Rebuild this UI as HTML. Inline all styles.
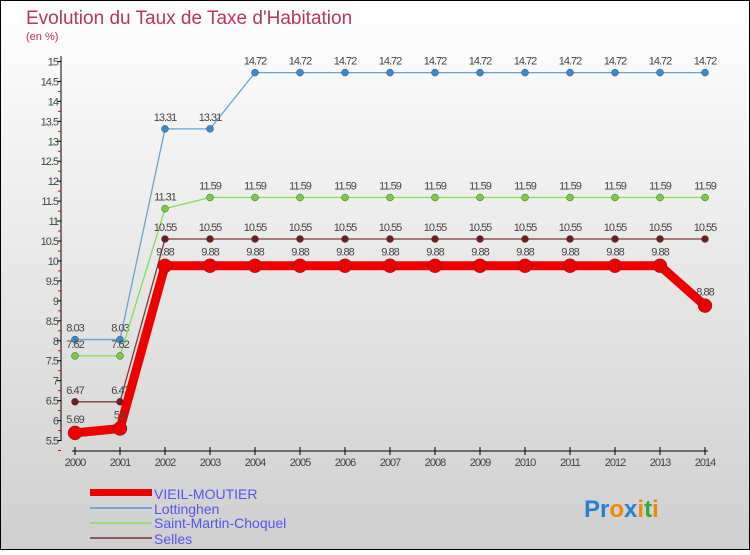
<!DOCTYPE html>
<html><head><meta charset="utf-8"><style>
body{margin:0;width:750px;height:550px;overflow:hidden;font-family:"Liberation Sans",sans-serif}
</style></head><body>
<svg width="750" height="550" xmlns="http://www.w3.org/2000/svg">
<defs><linearGradient id="bg" x1="0" y1="0" x2="0" y2="1"><stop offset="0" stop-color="#ffffff"/><stop offset="1" stop-color="#cfcfcf"/></linearGradient></defs>
<rect x="0.5" y="0.5" width="749" height="549" fill="url(#bg)" stroke="#000"/>
<text x="26" y="24" font-size="19" fill="#b5365f">Evolution du Taux de Taxe d'Habitation</text>
<text x="26" y="40" font-size="11" fill="#b5365f">(en %)</text>
<g id="axes"></g>
<g id="series"></g>
<g>
<rect x="90" y="489" width="62" height="7" fill="#e00"/>
<text x="154" y="499" font-size="14" fill="#5555ee">VIEIL-MOUTIER</text>
<rect x="90" y="507" width="62" height="2" fill="#7aa8cc"/>
<text x="154" y="514" font-size="14" fill="#5555ee">Lottinghen</text>
<rect x="90" y="522" width="62" height="2" fill="#99dd77"/>
<text x="154" y="528" font-size="14" fill="#5555ee">Saint-Martin-Choquel</text>
<rect x="90" y="537" width="62" height="2" fill="#8b5a5a"/>
<text x="154" y="544" font-size="14" fill="#5555ee">Selles</text>
</g>
<text x="584" y="517" font-size="24" font-weight="bold"><tspan fill="#2a7fd4">Pr</tspan><tspan fill="#f08a00">o</tspan><tspan fill="#2a7fd4">x</tspan><tspan fill="#f08a00">i</tspan><tspan fill="#33aa33">t</tspan><tspan fill="#f08a00">i</tspan></text>
</svg>
<script>
const years=[2000,2001,2002,2003,2004,2005,2006,2007,2008,2009,2010,2011,2012,2013,2014];
const vieil=[5.69,5.8,9.88,9.88,9.88,9.88,9.88,9.88,9.88,9.88,9.88,9.88,9.88,9.88,8.88];
const lott=[8.03,8.03,13.31,13.31,14.72,14.72,14.72,14.72,14.72,14.72,14.72,14.72,14.72,14.72,14.72];
const smc=[7.62,7.62,11.31,11.59,11.59,11.59,11.59,11.59,11.59,11.59,11.59,11.59,11.59,11.59,11.59];
const selles=[6.47,6.47,10.55,10.55,10.55,10.55,10.55,10.55,10.55,10.55,10.55,10.55,10.55,10.55,10.55];
const yTicks=[5.5,6,6.5,7,7.5,8,8.5,9,9.5,10,10.5,11,11.5,12,12.5,13,13.5,14,14.5,15];
const NS="http://www.w3.org/2000/svg";
const X=i=>75+i*45, Y=v=>440.5-(v-5.5)*39.9;
function mk(t,a,p){const e=document.createElementNS(NS,t);for(const k in a)e.setAttribute(k,a[k]);p.appendChild(e);return e;}
const ax=document.getElementById('axes');
const yl=mk('line',{x1:61,y1:56,x2:61,y2:441,stroke:'#000'},ax);


yTicks.forEach(v=>{
 mk('line',{x1:57,x2:61,y1:Y(v),y2:Y(v),stroke:'#000'},ax);
 mk('line',{x1:58,x2:61,y1:Y(v)+10,y2:Y(v)+10,stroke:v<15?'#e00':'none'},ax);
 const t=mk('text',{x:58,y:Y(v)+4,'font-size':11,'text-anchor':'end',fill:'#444','letter-spacing':'-1'},ax);t.textContent=v;
 
 
});
const xl=mk('line',{x1:72,y1:451,x2:708,y2:451,stroke:'#000'},ax);


years.forEach((y,i)=>{
 mk('line',{x1:X(i),x2:X(i),y1:447,y2:455,stroke:'#000'},ax);
 const t=mk('text',{x:X(i),y:466,'font-size':11,'text-anchor':'middle',fill:'#444','letter-spacing':'-1'},ax);t.textContent=y;
 
 
});
const sg=document.getElementById('series');
function series(vals,color,w,r,name,fill){
 const g=mk('g',{},sg);
 
 
 mk('polyline',{points:vals.map((v,i)=>X(i)+','+Y(v)).join(' '),fill:'none',stroke:color,'stroke-width':w,'stroke-linejoin':'round'},g);
 vals.forEach((v,i)=>{
  const c=mk('circle',{cx:X(i),cy:Y(v),r:r,fill:fill,stroke:'#333','stroke-width':0.4},g);
  
  
  const t=mk('text',{x:X(i),y:Y(v)-8-(r>4?2:0),'font-size':11,'text-anchor':'middle',fill:'#444','letter-spacing':'-1'},g);t.textContent=v;
  
  
 });
}
series(lott,'#6aa3d0',1.3,3.5,'lottinghen-series','#3a8ad0');
series(smc,'#88dd55',1.3,3.5,'saint-martin-choquel-series','#77cc44');
series(selles,'#7a3a3a',1.3,3.5,'selles-series','#6a2020');
series(vieil,'#ee0000',9,7,'vieil-moutier-series','#ee0000');
</script>
</body></html>
